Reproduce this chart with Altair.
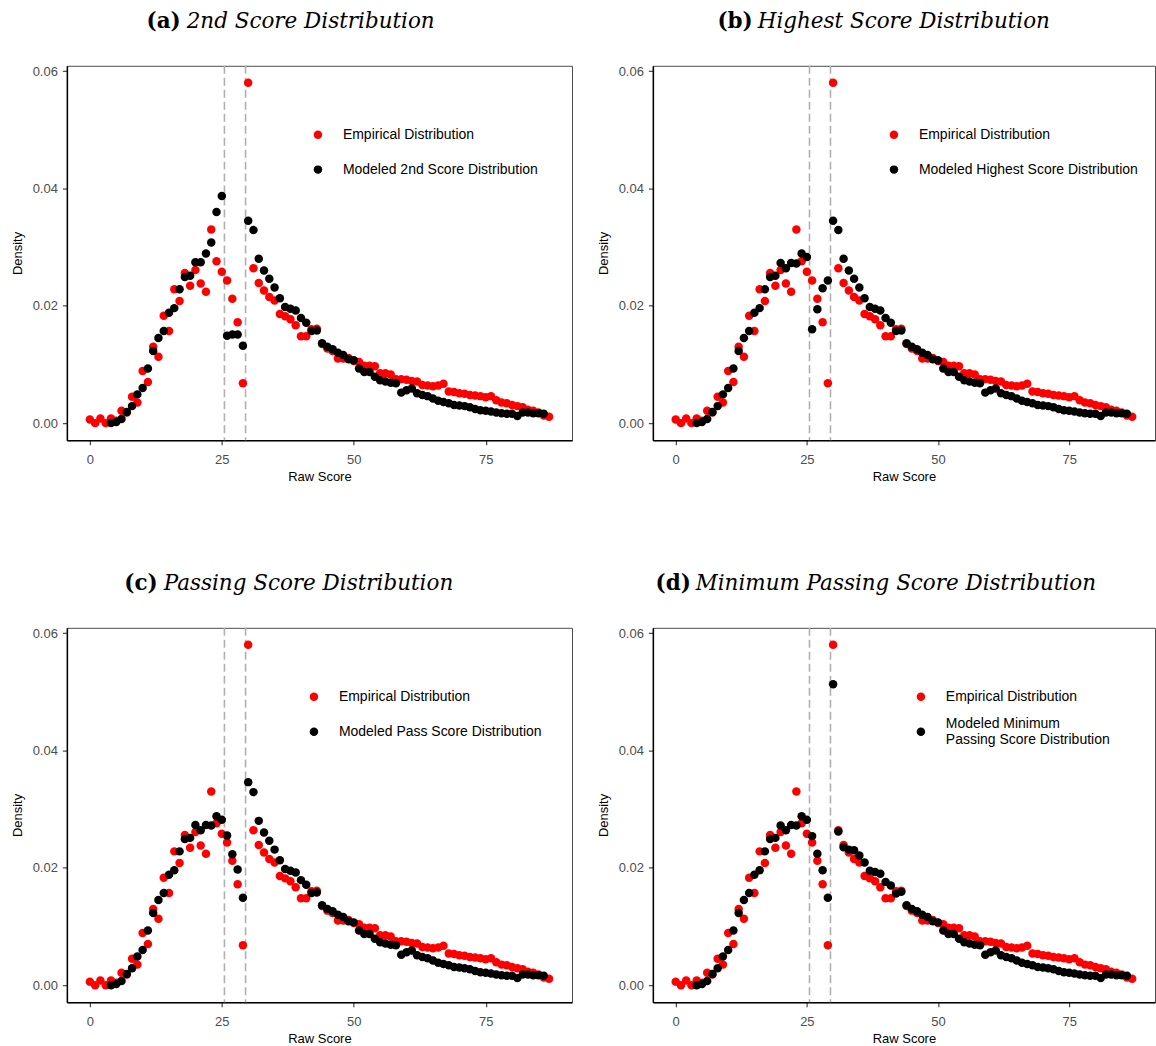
import altair as alt
import pandas as pd

# Raw score support of each series
score_emp = list(range(0, 88))
score_model = list(range(4, 87))

# Empirical density of raw scores 0..87
empirical = [
    0.0006, 0.0000, 0.0008, 0.0000, 0.0008, 0.0004, 0.0021, 0.0018, 0.0045, 0.0035,
    0.0089, 0.0070, 0.0130, 0.0113, 0.0183, 0.0157, 0.0228, 0.0208, 0.0256, 0.0234,
    0.0261, 0.0238, 0.0224, 0.0330, 0.0276, 0.0258, 0.0243, 0.0212, 0.0172, 0.0068,
    0.0580, 0.0264, 0.0239, 0.0226, 0.0215, 0.0209, 0.0186, 0.0182, 0.0177, 0.0167,
    0.0148, 0.0148, 0.0160, 0.0161, 0.0135, 0.0127, 0.0123, 0.0110, 0.0110, 0.0111,
    0.0106, 0.0104, 0.0098, 0.0098, 0.0097, 0.0085, 0.0085, 0.0083, 0.0075, 0.0075,
    0.0074, 0.0072, 0.0071, 0.0065, 0.0064, 0.0063, 0.0064, 0.0067, 0.0054, 0.0053,
    0.0051, 0.0050, 0.0048, 0.0047, 0.0046, 0.0044, 0.0046, 0.0039, 0.0035, 0.0034,
    0.0031, 0.0029, 0.0027, 0.0023, 0.0021, 0.0018, 0.0013, 0.0011,
]

# Modeled densities of raw scores 4..86
model_second = [
    0.0000, 0.0002, 0.0007, 0.0019, 0.0029, 0.0049, 0.0060, 0.0093, 0.0123, 0.0145,
    0.0157, 0.0188, 0.0196, 0.0228, 0.0249, 0.0251, 0.0274, 0.0274, 0.0289, 0.0308,
    0.0360, 0.0387, 0.0149, 0.0151, 0.0151, 0.0132, 0.0345, 0.0329, 0.0280, 0.0260,
    0.0246, 0.0231, 0.0213, 0.0198, 0.0195, 0.0192, 0.0179, 0.0171, 0.0157, 0.0158,
    0.0136, 0.0130, 0.0126, 0.0120, 0.0116, 0.0109, 0.0107, 0.0093, 0.0087, 0.0087,
    0.0079, 0.0073, 0.0071, 0.0069, 0.0068, 0.0052, 0.0056, 0.0059, 0.0051, 0.0048,
    0.0046, 0.0042, 0.0038, 0.0036, 0.0034, 0.0031, 0.0030, 0.0029, 0.0027, 0.0024,
    0.0022, 0.0021, 0.0020, 0.0018, 0.0017, 0.0016, 0.0016, 0.0012, 0.0018, 0.0018,
    0.0017, 0.0017, 0.0016,
]
model_highest = [
    0.0000, 0.0002, 0.0007, 0.0019, 0.0029, 0.0049, 0.0060, 0.0093, 0.0123, 0.0145,
    0.0157, 0.0188, 0.0196, 0.0228, 0.0249, 0.0251, 0.0273, 0.0264, 0.0273, 0.0272,
    0.0289, 0.0283, 0.0160, 0.0194, 0.0230, 0.0243, 0.0345, 0.0329, 0.0280, 0.0260,
    0.0246, 0.0231, 0.0213, 0.0198, 0.0195, 0.0192, 0.0179, 0.0171, 0.0157, 0.0158,
    0.0136, 0.0130, 0.0126, 0.0120, 0.0116, 0.0109, 0.0107, 0.0093, 0.0087, 0.0087,
    0.0079, 0.0073, 0.0071, 0.0069, 0.0068, 0.0052, 0.0056, 0.0059, 0.0051, 0.0048,
    0.0046, 0.0042, 0.0038, 0.0036, 0.0034, 0.0031, 0.0030, 0.0029, 0.0027, 0.0024,
    0.0022, 0.0021, 0.0020, 0.0018, 0.0017, 0.0016, 0.0016, 0.0012, 0.0018, 0.0018,
    0.0017, 0.0017, 0.0016,
]
model_pass = [
    0.0000, 0.0002, 0.0007, 0.0019, 0.0029, 0.0049, 0.0060, 0.0093, 0.0123, 0.0145,
    0.0157, 0.0188, 0.0196, 0.0228, 0.0249, 0.0251, 0.0273, 0.0264, 0.0273, 0.0272,
    0.0288, 0.0282, 0.0255, 0.0223, 0.0197, 0.0149, 0.0346, 0.0329, 0.0280, 0.0260,
    0.0246, 0.0231, 0.0213, 0.0198, 0.0195, 0.0192, 0.0179, 0.0171, 0.0157, 0.0158,
    0.0136, 0.0130, 0.0126, 0.0120, 0.0116, 0.0109, 0.0107, 0.0093, 0.0087, 0.0087,
    0.0079, 0.0073, 0.0071, 0.0069, 0.0068, 0.0052, 0.0056, 0.0059, 0.0051, 0.0048,
    0.0046, 0.0042, 0.0038, 0.0036, 0.0034, 0.0031, 0.0030, 0.0029, 0.0027, 0.0024,
    0.0022, 0.0021, 0.0020, 0.0018, 0.0017, 0.0016, 0.0016, 0.0012, 0.0018, 0.0018,
    0.0017, 0.0017, 0.0016,
]
model_min_pass = [
    0.0000, 0.0002, 0.0007, 0.0019, 0.0029, 0.0049, 0.0060, 0.0093, 0.0123, 0.0145,
    0.0157, 0.0188, 0.0196, 0.0228, 0.0249, 0.0251, 0.0272, 0.0264, 0.0273, 0.0272,
    0.0288, 0.0282, 0.0254, 0.0224, 0.0196, 0.0149, 0.0513, 0.0262, 0.0235, 0.0231,
    0.0230, 0.0221, 0.0209, 0.0195, 0.0193, 0.0190, 0.0176, 0.0170, 0.0156, 0.0159,
    0.0136, 0.0130, 0.0126, 0.0120, 0.0116, 0.0109, 0.0107, 0.0093, 0.0087, 0.0087,
    0.0079, 0.0073, 0.0071, 0.0069, 0.0068, 0.0052, 0.0056, 0.0059, 0.0051, 0.0048,
    0.0046, 0.0042, 0.0038, 0.0036, 0.0034, 0.0031, 0.0030, 0.0029, 0.0027, 0.0024,
    0.0022, 0.0021, 0.0020, 0.0018, 0.0017, 0.0016, 0.0016, 0.0012, 0.0018, 0.0018,
    0.0017, 0.0017, 0.0016,
]

# Passing-score cutoffs (dashed guides)
cutoffs = [25.5, 29.5]

EMP_LABEL = "Empirical Distribution"
MIN_PASS_LABEL = "Modeled Minimum Passing Score Distribution"
x_ticks = [0, 25, 50, 75]
y_ticks = [0.00, 0.02, 0.04, 0.06]

PLOT_H = 375
SERIF = "DejaVu Serif"
SANS = "Liberation Sans"
DOT = 72


def legend(x, y, **extra):
    return alt.Legend(
        title=None,
        orient="none",
        legendX=x,
        legendY=y,
        labelFont=SANS,
        labelFontSize=14,
        labelColor="black",
        labelLimit=400,
        labelOffset=18,
        symbolType="circle",
        symbolSize=DOT,
        symbolStrokeWidth=0,
        padding=0,
        **extra,
    )


def panel(tag, name, model_label, model_vals, width, tag_right, name_left, legend_x,
          wrap_label=False):
    x = alt.X(
        "score:Q",
        scale=alt.Scale(domain=[-4.35, 91.35], nice=False, zero=False),
        axis=alt.Axis(values=x_ticks, title="Raw Score"),
    )
    y = alt.Y(
        "density:Q",
        scale=alt.Scale(domain=[-0.0029, 0.0609], nice=False, zero=False),
        axis=alt.Axis(values=y_ticks, format=".2f", title="Density"),
    )

    emp_df = pd.DataFrame({"score": score_emp, "density": empirical, "series": EMP_LABEL})
    model_df = pd.DataFrame({"score": score_model, "density": model_vals, "series": model_label})

    if wrap_label:
        # two-line label, lifted so the symbol sits between its lines
        model_legend = legend(
            legend_x, 97,
            labelExpr="['Modeled Minimum', 'Passing Score Distribution']",
            labelBaseline="line-bottom",
        )
    else:
        model_legend = legend(legend_x, 97)

    rules = alt.Chart(pd.DataFrame({"score": cutoffs})).mark_rule(
        color="#b0b0b0", strokeDash=[8, 4], strokeWidth=1.6
    ).encode(x=x)

    emp_pts = alt.Chart(emp_df).mark_circle(size=DOT, opacity=1).encode(
        x=x,
        y=y,
        color=alt.Color(
            "series:N",
            scale=alt.Scale(domain=[EMP_LABEL], range=["#ff0000"]),
            legend=legend(legend_x, 62),
        ),
    )

    model_pts = alt.Chart(model_df).mark_circle(size=DOT, opacity=1).encode(
        x=x,
        y=y,
        color=alt.Color(
            "series:N",
            scale=alt.Scale(domain=[model_label], range=["#000000"]),
            legend=model_legend,
        ),
    )

    tag_text = alt.Chart(pd.DataFrame({"t": [tag]})).mark_text(
        font=SERIF, fontSize=21.5, fontWeight="bold", align="right", baseline="alphabetic",
        color="black",
    ).encode(text="t:N", x=alt.value(tag_right), y=alt.value(-38))

    name_text = alt.Chart(pd.DataFrame({"t": [name]})).mark_text(
        font=SERIF, fontSize=21.5, fontStyle="italic", align="left", baseline="alphabetic",
        color="black",
    ).encode(text="t:N", x=alt.value(name_left), y=alt.value(-38))

    return (
        alt.layer(rules, emp_pts, model_pts, tag_text, name_text)
        .resolve_scale(color="independent")
        .properties(width=width, height=PLOT_H)
    )


pa = panel("(a)", "2nd Score Distribution", "Modeled 2nd Score Distribution",
           model_second, 506, 114, 120, 244.5)
pb = panel("(b)", "Highest Score Distribution", "Modeled Highest Score Distribution",
           model_highest, 503, 100, 105, 234.5)
pc = panel("(c)", "Passing Score Distribution", "Modeled Pass Score Distribution",
           model_pass, 506, 91, 97, 240.5)
pd_ = panel("(d)", "Minimum Passing Score Distribution", MIN_PASS_LABEL,
            model_min_pass, 503, 38, 43, 261.5, wrap_label=True)

top = alt.hconcat(pa, pb, spacing=23).resolve_scale(color="independent")
bottom = alt.hconcat(pc, pd_, spacing=23).resolve_scale(color="independent")

chart = (
    alt.vconcat(top, bottom, spacing=88)
    .resolve_scale(color="independent")
    .properties(padding={"left": 10, "top": 9, "right": 0, "bottom": 0}, background="white")
    .configure_view(stroke="#4d4d4d", strokeWidth=1)
    .configure_axis(
        grid=False,
        labelFont=SANS,
        labelFontSize=13,
        labelColor="#4d4d4d",
        titleFont=SANS,
        titleFontSize=13,
        titleFontWeight="normal",
        titleColor="black",
        domainColor="black",
        domainWidth=1.5,
        tickColor="#333333",
        tickWidth=1.1,
        tickSize=4.5,
    )
    .configure_axisY(labelPadding=5, titlePadding=8)
    .configure_axisX(labelPadding=9, titlePadding=4)
)

chart.save("out.html", embed_options={"renderer": "svg", "actions": False})
